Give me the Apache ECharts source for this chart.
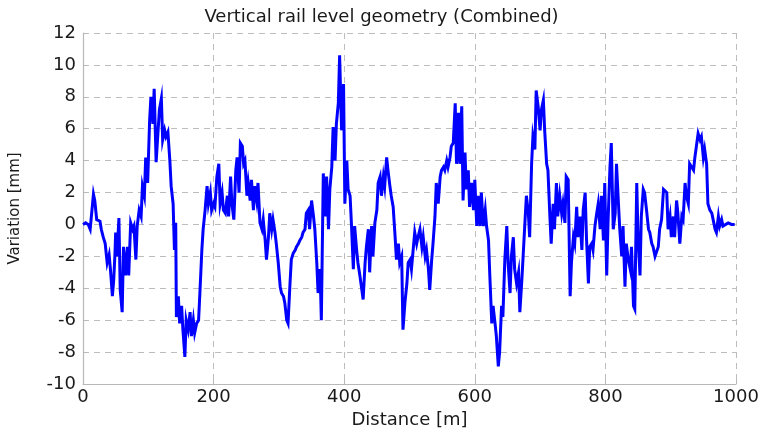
<!DOCTYPE html>
<html>
<head>
<meta charset="utf-8">
<script src="https://cdn.jsdelivr.net/npm/echarts@6/dist/echarts.min.js"></script>
<style>html,body{margin:0;padding:0;background:#fff}#c{width:763px;height:432px}</style>
</head>
<body>
<div id="c"></div>
<script>
const titleText = "Vertical rail level geometry (Combined)";
const xName = "Distance [m]";
const yName = "Variation [mm]";
const xTicks = [0, 200, 400, 600, 800, 1000];
const yTicks = [-10, -8, -6, -4, -2, 0, 2, 4, 6, 8, 10, 12];

const distance = [
0,4,8,11,13,16,18,21,26,28,31,34,37,40,42,45,47,49,50,52,55,57,60,62,65,68,70,73,76,78,81,83,86,89,91,94,96,99,
102,104,107,109,112,115,117,120,122,125,127,130,133,135,138,140,142,143,146,148,151,153,156,158,161,164,166,169,171,174,177,179,
182,184,187,190,192,195,197,200,202,205,208,210,213,215,218,221,223,226,228,231,234,236,239,241,244,246,248,
251,253,256,258,261,263,266,268,271,274,276,279,281,284,286,289,291,294,296,299,302,304,307,309,312,314,317,319,322,325,327,330,332,335,337,340,
342,345,347,350,353,355,358,360,363,365,368,371,373,376,378,381,383,386,388,391,393,396,399,
401,404,406,409,411,414,416,419,421,424,427,429,432,434,437,439,442,444,447,450,452,455,457,460,462,465,467,470,472,475,478,480,483,485,488,490,
493,496,498,501,503,506,508,511,513,516,519,521,524,526,529,531,534,536,539,541,544,547,549,552,554,557,559,562,564,567,570,572,575,577,580,
582,585,587,590,592,595,598,600,603,605,608,610,613,616,618,621,623,626,628,631,633,636,638,641,643,646,649,651,654,656,659,661,664,667,669,
672,674,677,679,682,684,687,689,692,694,697,700,702,705,707,710,712,715,717,720,722,725,727,730,733,735,738,740,
743,746,748,751,753,756,758,761,764,766,769,771,774,776,779,781,784,786,789,792,794,797,799,
802,804,807,809,812,815,817,820,822,825,827,830,832,835,838,840,843,845,848,850,853,855,858,860,863,866,868,871,873,876,878,881,883,886,889,891,894,896,899,
901,904,906,909,911,914,917,919,922,924,927,929,932,935,937,940,942,945,947,950,952,955,957,960,963,965,968,970,973,975,978,980,983,988,993,998
];
const variation = [
0.0,0.1,0.0,-0.3,-0.4,1.9,1.5,0.3,0.2,-0.3,-0.8,-1.2,-2.4,-1.9,-2.8,-4.5,-3.5,-1.8,-0.5,-2.0,0.4,-4.1,-5.5,-1.4,-3.2,-1.4,-3.2,0.1,-0.3,-0.1,-2.2,-0.1,0.9,0.5,2.4,1.8,4.2,2.6,
6.5,8.0,6.3,8.5,3.9,5.9,7.2,7.9,5.3,5.9,5.5,5.8,4.0,2.4,1.3,-1.6,0.1,-5.8,-4.5,-6.2,-5.1,-6.6,-8.3,-6.0,-6.6,-5.5,-7.0,-6.0,-6.8,-6.2,-6.0,-4.3,
-1.6,-0.3,0.9,2.4,1.3,2.0,0.9,1.3,1.1,3.0,3.8,1.3,2.0,0.9,0.7,1.8,0.5,3.0,1.3,0.3,3.4,4.2,2.0,5.1,4.9,3.8,4.0,
1.8,2.6,1.5,2.8,0.9,2.4,1.5,2.6,0.1,-0.3,0.3,-1.0,-2.2,-0.8,0.7,-0.3,0.3,-0.5,-1.2,-2.4,-3.9,-4.3,-4.5,-4.9,-6.0,-6.2,-3.7,-2.2,-1.8,-1.6,-1.4,-1.2,-1.0,-0.8,-0.5,-0.3,
0.7,0.9,-0.3,1.5,0.5,-0.3,-2.4,-4.3,-2.8,-6.0,3.2,0.5,3.0,-0.3,2.2,3.6,6.1,4.0,6.3,7.6,10.6,5.9,8.8,
1.3,4.0,2.2,1.8,0.1,-2.8,-0.1,-1.6,-2.4,-3.2,-4.1,-4.7,-2.4,-1.4,-0.3,-3.0,-0.1,-2.0,0.1,0.9,2.6,3.0,1.8,3.0,2.4,4.2,3.4,2.4,1.8,1.1,-0.8,-2.2,-1.2,-2.4,-2.0,-6.6,
-4.9,-3.7,-2.4,-2.2,-2.8,-1.4,-0.5,-1.2,-0.8,-0.3,-1.4,-0.8,-2.0,-1.6,-2.8,-4.1,-2.2,-1.2,0.5,2.6,1.3,3.0,3.4,3.6,3.4,4.0,3.6,4.2,4.9,5.1,7.6,3.8,7.0,3.8,7.4,
1.5,4.5,2.2,3.4,1.1,2.6,0.9,2.8,-0.1,1.8,-0.1,2.0,-0.1,0.9,-0.1,-1.0,-3.2,-6.2,-5.1,-6.2,-7.0,-8.9,-8.0,-5.1,-5.8,-2.2,-0.1,-2.4,-4.3,-2.0,-0.8,-2.8,-3.7,-3.0,-5.5,
-3.5,-2.0,0.3,1.8,0.7,-0.8,3.8,5.5,4.7,8.4,7.4,5.9,7.2,7.8,5.9,3.8,3.4,0.5,-1.2,1.3,-0.3,2.6,0.5,1.8,0.7,1.3,0.1,3.0,
2.8,-4.5,-2.4,-0.8,-1.2,1.1,-0.8,0.5,-1.6,0.9,2.0,-0.8,-3.7,-1.4,-1.2,-1.6,-0.1,0.5,1.3,-0.3,1.8,-1.0,2.6,
-3.2,0.1,3.6,5.1,-0.3,0.7,3.8,1.3,-0.3,-2.0,-0.1,-3.9,-1.2,-2.2,-2.8,-1.4,-5.1,-5.3,2.6,-0.8,-3.2,0.5,2.2,2.0,0.9,-0.3,-0.5,-1.2,-1.4,-2.0,-2.0,-1.4,-0.3,0.3,2.2,2.2,2.0,-0.3,0.5,
-0.8,0.5,-0.8,1.5,0.7,-1.2,0.5,0.3,2.6,1.8,1.3,3.8,3.8,3.4,4.2,4.2,5.7,5.3,5.5,4.2,4.7,3.8,1.3,0.9,0.7,0.3,-0.3,-0.5,0.5,-0.1,0.3,-0.1,0.0,0.1,0.0,0.0
];

const seriesData = distance.map((d, i) => [d, variation[i]]);

const chart = echarts.init(document.getElementById('c'), null, {renderer: 'canvas'});
const font = '"DejaVu Sans", "Liberation Sans", Arial, sans-serif';
chart.setOption({
  backgroundColor: '#ffffff',
  animation: false,
  title: {
    text: titleText,
    left: 'center',
    top: 3,
    textStyle: {fontFamily: font, fontSize: 18, fontWeight: 'normal', color: '#1a1a1a'}
  },
  grid: {left: 83, right: 27, top: 33, bottom: 48, containLabel: false, outerBoundsMode: 'none'},
  xAxis: {
    type: 'value',
    min: xTicks[0], max: xTicks[xTicks.length - 1], interval: 200,
    name: xName, nameLocation: 'middle', nameGap: 27,
    nameTextStyle: {fontFamily: font, fontSize: 18, color: '#1a1a1a'},
    axisLine: {show: true, onZero: false, lineStyle: {color: '#b8b8b8', width: 1.2}},
    axisTick: {show: true, inside: true, length: 4, lineStyle: {color: '#b8b8b8'}},
    axisLabel: {fontFamily: font, fontSize: 18, color: '#1a1a1a', margin: 4,
      formatter: v => String(v)},
    splitLine: {show: true, lineStyle: {color: '#bdbdbd', type: [6, 5], width: 1}}
  },
  yAxis: {
    type: 'value',
    min: yTicks[0], max: yTicks[yTicks.length - 1], interval: 2,
    name: yName, nameLocation: 'middle', nameGap: 60, nameRotate: 90,
    nameTextStyle: {fontFamily: font, fontSize: 15, color: '#1a1a1a'},
    axisLine: {show: true, onZero: false, lineStyle: {color: '#b8b8b8', width: 1.2}},
    axisTick: {show: true, inside: true, length: 4, lineStyle: {color: '#b8b8b8'}},
    axisLabel: {fontFamily: font, fontSize: 18, color: '#1a1a1a', margin: 7,
      formatter: v => String(v)},
    splitLine: {show: true, lineStyle: {color: '#bdbdbd', type: [6, 5], width: 1}}
  },
  series: [{
    type: 'line',
    data: seriesData,
    showSymbol: false,
    symbol: 'none',
    lineStyle: {color: '#0000ff', width: 3, join: 'miter'},
    itemStyle: {color: '#0000ff'}
  }]
});
</script>
</body>
</html>
